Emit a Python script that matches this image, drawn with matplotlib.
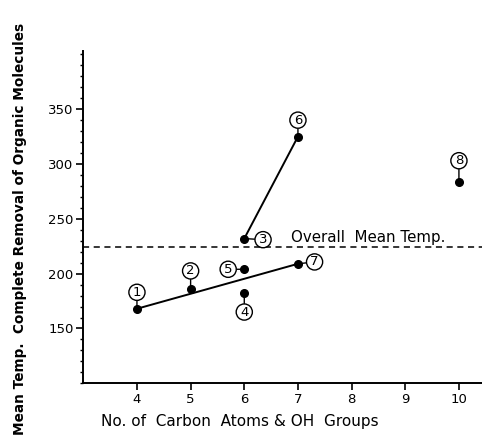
import matplotlib
matplotlib.use("Agg")
import matplotlib.pyplot as plt
from matplotlib.ticker import MultipleLocator

# ---- data ----
compound_ids = ["1", "2", "3", "4", "5", "6", "7", "8"]
carbon_oh_groups = [4, 5, 6, 6, 6, 7, 7, 10]
mean_temp = [168, 186, 232, 182, 204, 325, 209, 284]
overall_mean_temp = 224
connected_pairs = [("1", "7"), ("3", "6")]
x_ticks = [4, 5, 6, 7, 8, 9, 10]
y_ticks = [150, 200, 250, 300, 350]

# ---- layout (label offsets in data units) ----
label_offsets = {
    "1": (0.0, 15), "2": (0.0, 16.5), "3": (0.35, -1), "4": (0.0, -17),
    "5": (-0.30, 0), "6": (0.0, 15), "7": (0.31, 1.7), "8": (0.0, 19),
}

fig = plt.figure(figsize=(4.82, 4.48), dpi=100)
ax = fig.add_axes([0.1728, 0.1444, 0.8272, 0.7416])

pts = dict(zip(compound_ids, zip(carbon_oh_groups, mean_temp)))

for a, b in connected_pairs:
    ax.plot([pts[a][0], pts[b][0]], [pts[a][1], pts[b][1]], color="black", lw=1.4, zorder=2)

ax.axhline(overall_mean_temp, color="black", lw=1.1, ls=(0, (4, 3)), zorder=1)

ax.plot(carbon_oh_groups, mean_temp, "o", color="black", ms=5.5, zorder=3)

for cid in compound_ids:
    x, y = pts[cid]
    dx, dy = label_offsets[cid]
    ax.annotate(cid, xy=(x, y), xytext=(x + dx, y + dy), textcoords="data",
                ha="center", va="center", fontsize=9.5,
                bbox=dict(boxstyle="circle,pad=0.12", fc="white", ec="black", lw=1.0),
                arrowprops=dict(arrowstyle="-", lw=1.0, color="black", shrinkA=0, shrinkB=2),
                zorder=4)

ax.text(6.88, 233, "Overall  Mean Temp.", fontsize=10.8, ha="left", va="center")

ax.set_xlim(3, 10.43)
ax.set_ylim(100, 403)
ax.set_xticks(x_ticks)
ax.set_xticklabels([str(t) for t in x_ticks])
ax.set_yticks(y_ticks)
ax.set_yticklabels([str(t) for t in y_ticks])
ax.yaxis.set_minor_locator(MultipleLocator(10))

ax.tick_params(axis="both", which="major", direction="out", length=5, width=1.2, labelsize=9.5, pad=2)
ax.tick_params(axis="y", which="minor", direction="out", length=2.5, width=1.0)
ax.spines["top"].set_visible(False)
ax.spines["right"].set_visible(False)
ax.spines["left"].set_linewidth(1.4)
ax.spines["bottom"].set_linewidth(1.4)

fig.text(0.497, 0.06, "No. of  Carbon  Atoms & OH  Groups", fontsize=11, ha="center", va="center")
fig.text(0.042, 0.49, "Mean Temp.  Complete Removal of Organic Molecules", fontsize=9.8,
         fontweight="bold", rotation=90, ha="center", va="center")

fig.savefig("out.png", dpi=100)
